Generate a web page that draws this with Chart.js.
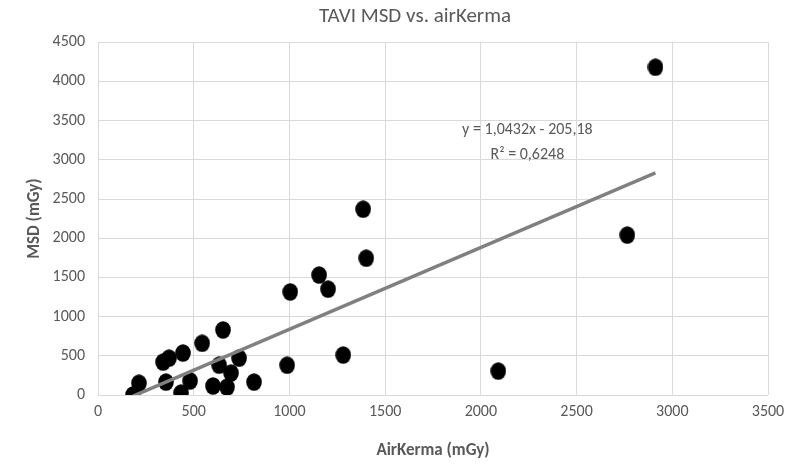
<!DOCTYPE html>
<html>
<head>
<meta charset="utf-8">
<script src="https://cdn.jsdelivr.net/npm/chart.js@4.4.1/dist/chart.umd.min.js"></script>
<style>
  html, body { margin: 0; padding: 0; background: #fff; }
  #wrap { width: 786px; height: 466px; }
</style>
</head>
<body>
<div id="wrap"><canvas id="myChartMsd" width="786" height="466"></canvas></div>
<script>
// values (mGy)
const airKerma = [183, 214, 355, 434, 481, 340, 371, 444, 544, 653, 737, 633, 695, 601, 674, 815,
                  988, 1281, 1004, 1155, 1202, 1385, 1401, 2091, 2765, 2912]
const msd      = [0, 150, 165, 25, 180, 420, 470, 535, 660, 830, 470, 380, 280, 115, 100, 165,
                  380, 510, 1315, 1530, 1350, 2370, 1745, 305, 2040, 4180]
const xTicks = [0, 500, 1000, 1500, 2000, 2500, 3000, 3500]
const yTicks = [0, 500, 1000, 1500, 2000, 2500, 3000, 3500, 4000, 4500]
// trend line as given in the chart label
const slope = 1.0432
const intercept = -205.18
const eqLines = ['y = 1,0432x - 205,18', 'R\u00B2 = 0,6248']
const chartTitle = 'TAVI MSD vs. airKerma'

const FONT = 'Carlito, Lato, "Open Sans", sans-serif'
const GREY = '#595959'

const points = airKerma.map((x, i) => ({ x: x, y: msd[i] }))
const xMin = Math.min(...airKerma)
const xMax = Math.max(...airKerma)
const trend = [xMin, xMax].map(x => ({ x: x, y: slope * x + intercept }))

// slightly tall ellipse like the excel markers
const dot = document.createElement('canvas')
dot.width = 16; dot.height = 18
const dctx = dot.getContext('2d')
dctx.fillStyle = '#000'
dctx.beginPath()
dctx.ellipse(8, 9, 7.8, 8.8, 0, 0, Math.PI * 2)
dctx.fill()

const labels = {
    id: 'labels',
    afterDatasetsDraw(chart) {
        const c = chart.ctx
        const xs = chart.scales.x, ys = chart.scales.y
        const area = chart.chartArea
        c.save()
        c.fillStyle = GREY
        c.textAlign = 'center'
        c.textBaseline = 'middle'
        // title sits a bit left of the plot centre, as in excel
        c.font = '21px ' + FONT
        c.fillText(chartTitle, (area.left + area.right) / 2 - 18, 17)
        c.font = '16px ' + FONT
        c.fillText(eqLines[0], xs.getPixelForValue(2243), ys.getPixelForValue(3380))
        c.fillText(eqLines[1], xs.getPixelForValue(2243), ys.getPixelForValue(3060))
        c.restore()
    }
}

var ctx = document.getElementById('myChartMsd')
var myChart = new Chart(ctx, {
    type: 'scatter',
    data: {
        datasets: [{
            label: 'MSD',
            data: points,
            pointStyle: dot,
            pointRadius: 8,
            order: 2
        }, {
            label: 'Trend',
            type: 'line',
            data: trend,
            borderColor: '#808080',
            borderWidth: 3.5,
            pointRadius: 0,
            fill: false,
            order: 1
        }]
    },
    options: {
        responsive: false,
        animation: false,
        layout: { padding: { left: 0, right: 0, top: 0, bottom: 0 } },
        plugins: {
            legend: { display: false },
            tooltip: { enabled: false },
            title: {
                // only reserves the space, text is drawn by the labels plugin
                display: true,
                text: ' ',
                font: { family: FONT, size: 21, weight: 'normal' },
                padding: { top: 3, bottom: 14 }
            }
        },
        scales: {
            x: {
                type: 'linear',
                min: 0, max: 3500,
                afterBuildTicks: s => { s.ticks = xTicks.map(v => ({ value: v })) },
                afterFit: s => { s.height = 71; s.paddingRight = 18 },
                grid: { color: '#d9d9d9', drawTicks: false },
                border: { display: false },
                ticks: { color: GREY, font: { family: FONT, size: 16 }, padding: 7, callback: v => String(v) },
                title: {
                    display: true, text: 'AirKerma (mGy)', color: GREY,
                    font: { family: FONT, size: 17, weight: 'bold' },
                    padding: { top: 0, bottom: 5 }
                }
            },
            y: {
                type: 'linear',
                min: 0, max: 4500,
                afterBuildTicks: s => { s.ticks = yTicks.map(v => ({ value: v })) },
                afterFit: s => { s.width = 98 },
                grid: { color: '#d9d9d9', drawTicks: false },
                border: { display: false },
                ticks: { color: GREY, font: { family: FONT, size: 16 }, padding: 13, callback: v => String(v) },
                title: {
                    display: true, text: 'MSD (mGy)', color: GREY,
                    font: { family: FONT, size: 17, weight: 'bold' },
                    padding: { top: 25, bottom: 0 }
                }
            }
        }
    },
    plugins: [labels]
})
</script>
</body>
</html>
